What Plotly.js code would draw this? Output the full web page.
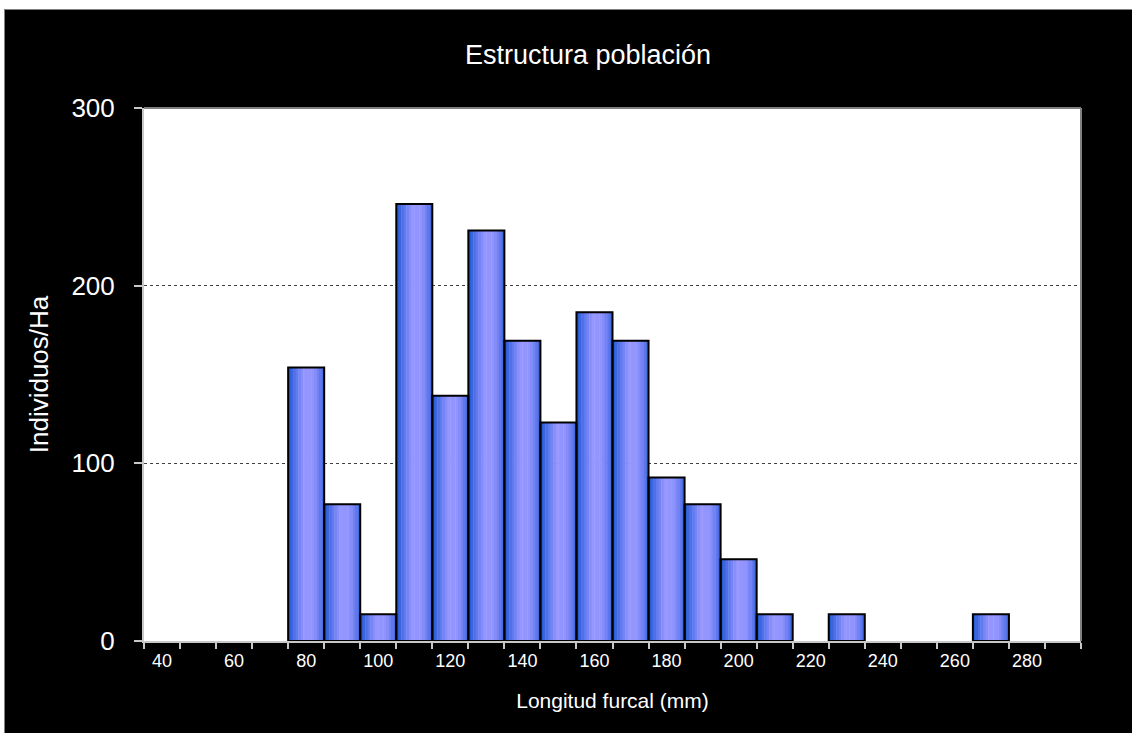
<!DOCTYPE html>
<html>
<head>
<meta charset="utf-8">
<script src="https://cdn.plot.ly/plotly-3.0.1.min.js"></script>
<style>
  html, body { margin: 0; padding: 0; background: #ffffff; width: 1132px; height: 733px; overflow: hidden; }
  #chart { position: absolute; left: 4px; top: 9px; width: 1128px; height: 724px;
           box-sizing: border-box; border-top: 1px solid #808080; border-left: 1px solid #808080; background: #000; }
</style>
</head>
<body>
<div id="chart"></div>
<script>
// Data
const lengthClasses = [40, 50, 60, 70, 80, 90, 100, 110, 120, 130, 140, 150, 160, 170, 180, 190, 200, 210, 220, 230, 240, 250, 260, 270, 280, 290];
const individualsPerHa = [0, 0, 0, 0, 154, 77, 15, 246, 138, 231, 169, 123, 185, 169, 92, 77, 46, 15, 0, 15, 0, 0, 0, 15, 0, 0];
const xTickValues = [40, 60, 80, 100, 120, 140, 160, 180, 200, 220, 240, 260, 280];
const xTickLabels = ["40", "60", "80", "100", "120", "140", "160", "180", "200", "220", "240", "260", "280"];
const yTickValues = [0, 100, 200, 300];
const yTickLabels = ["0", "100", "200", "300"];

const chartTitle = "Estructura población";
const xTitle = "Longitud furcal (mm)";
const yTitle = "Individuos/Ha";

// Horizontal gradient stops (position across bar, colour)
const gradStops = [
  [0.00, [30, 85, 205]],
  [0.20, [85, 115, 235]],
  [0.45, [150, 150, 255]],
  [0.70, [145, 148, 255]],
  [0.88, [100, 122, 238]],
  [1.00, [62, 100, 218]]
];
function gradColor(t) {
  for (let i = 0; i < gradStops.length - 1; i++) {
    const a = gradStops[i], b = gradStops[i + 1];
    if (t >= a[0] && t <= b[0]) {
      const f = (t - a[0]) / (b[0] - a[0]);
      const c = a[1].map((v, k) => Math.round(v + (b[1][k] - v) * f));
      return 'rgb(' + c.join(',') + ')';
    }
  }
  return 'rgb(' + gradStops[gradStops.length - 1][1].join(',') + ')';
}

const drawn = individualsPerHa.map(v => v === 0 ? null : v);
const binWidth = 10;
const slices = 14;
const traces = [];
for (let i = 0; i < slices; i++) {
  const w = binWidth / slices;
  traces.push({
    type: 'bar',
    x: lengthClasses,
    y: drawn,
    width: w + 0.12,
    offset: -binWidth / 2 + i * w - 0.06 * (i > 0 ? 1 : 0),
    marker: { color: gradColor((i + 0.5) / slices), line: { width: 0 } },
    hoverinfo: 'skip',
    showlegend: false
  });
}
traces.push({
  type: 'bar',
  x: lengthClasses,
  y: drawn,
  width: binWidth,
  offset: -binWidth / 2,
  marker: { color: 'rgba(0,0,0,0)', line: { color: '#000000', width: 2 } },
  hoverinfo: 'skip',
  showlegend: false
});

const font = "Liberation Sans, Arial, sans-serif";
const layout = {
  width: 1128,
  height: 724,
  paper_bgcolor: '#000000',
  plot_bgcolor: '#ffffff',
  barmode: 'overlay',
  margin: { l: 139, r: 52, t: 98, b: 93 },
  showlegend: false,
  title: {
    text: chartTitle,
    font: { family: font, size: 27, color: '#ffffff' },
    xref: 'container', x: 583 / 1128, xanchor: 'center',
    yref: 'container', y: 1 - 45 / 724, yanchor: 'middle'
  },
  xaxis: {
    type: 'linear',
    range: [35, 295],
    tickvals: xTickValues,
    ticktext: xTickLabels,
    ticks: '',
    ticklabelstandoff: 2,
    tickfont: { family: font, size: 18, color: '#ffffff' },
    minor: { tick0: 35, dtick: 10, ticks: 'outside', ticklen: 6, tickcolor: '#c8c8c8', tickwidth: 2, showgrid: false },
    showgrid: false,
    zeroline: false,
    showline: true,
    linecolor: '#c8c8c8',
    linewidth: 2,
    mirror: false,
    title: { text: xTitle, font: { family: font, size: 21, color: '#ffffff' }, standoff: 24 },
    automargin: false,
    fixedrange: true
  },
  yaxis: {
    range: [0, 300],
    tickvals: yTickValues,
    ticktext: yTickLabels,
    ticks: 'outside',
    ticklen: 8,
    tickwidth: 2,
    tickcolor: '#c8c8c8',
    ticklabelstandoff: 14,
    tickfont: { family: font, size: 26, color: '#ffffff' },
    showgrid: true,
    gridcolor: '#404040',
    gridwidth: 1,
    griddash: 'dot',
    zeroline: false,
    showline: true,
    linecolor: '#c8c8c8',
    linewidth: 2,
    title: { text: yTitle, font: { family: font, size: 26, color: '#ffffff' }, standoff: 15 },
    automargin: false,
    fixedrange: true
  },
  shapes: [
    { type: 'line', xref: 'paper', yref: 'paper', x0: 0, x1: 1, y0: 1, y1: 1, line: { color: '#808080', width: 2 } },
    { type: 'line', xref: 'paper', yref: 'paper', x0: 1, x1: 1, y0: 0, y1: 1, line: { color: '#808080', width: 2 } }
  ]
};

Plotly.newPlot('chart', traces, layout, { staticPlot: true, displayModeBar: false });
</script>
</body>
</html>
